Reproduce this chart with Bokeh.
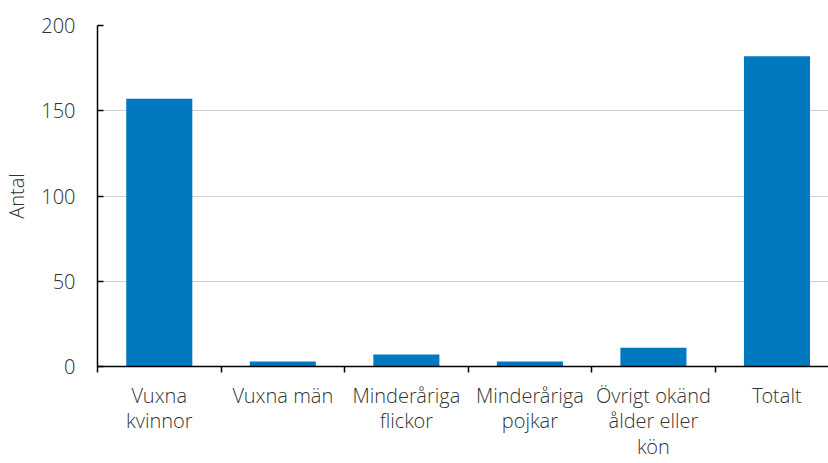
from bokeh.plotting import figure
from bokeh.models import Range1d, FixedTicker, ColumnDataSource
from bokeh.embed import file_html
from bokeh.resources import INLINE

categories = ["Vuxna\nkvinnor", "Vuxna män", "Minderåriga\nflickor", "Minderåriga\npojkar",
              "Övrigt okänd\nålder eller\nkön", "Totalt"]
values = [157, 3, 7, 3, 11, 182]
y_ticks = [0, 50, 100, 150, 200]

FONT = "'Open Sans Light', 'Open Sans'"
TXT = "#333333"
BAR = "#0079C1"

xs = [i + 0.5 for i in range(len(categories))]
src = ColumnDataSource(dict(x=xs, top=values))

p = figure(width=828, height=463, output_backend="svg", toolbar_location=None,
           x_range=Range1d(0, 5.917), y_range=Range1d(0, 200),
           min_border_left=96, min_border_right=0, min_border_top=25, min_border_bottom=88)
p.outline_line_color = None
p.background_fill_color = "white"
p.border_fill_color = "white"

p.vbar(x="x", top="top", width=0.535, bottom=0, source=src, color=BAR, line_color=None)

p.xgrid.visible = False
p.ygrid.grid_line_color = "#d0d0d0"
p.ygrid.grid_line_width = 1

# x axis
xa = p.xaxis[0]
xa.ticker = FixedTicker(ticks=xs, minor_ticks=list(range(len(categories) + 1)))
xa.major_label_overrides = {x: c for x, c in zip(xs, categories)}
xa.major_tick_in = 0
xa.major_tick_out = 0
xa.minor_tick_in = 0
xa.minor_tick_out = 6
xa.minor_tick_line_color = "black"
xa.minor_tick_line_width = 1.5
xa.axis_line_color = "black"
xa.axis_line_width = 1.5
xa.major_label_standoff = 9
xa.major_label_text_font = FONT
xa.major_label_text_font_size = "20px"
xa.major_label_text_line_height = 0.96
xa.major_label_text_color = TXT

# y axis
ya = p.yaxis[0]
ya.ticker = FixedTicker(ticks=y_ticks)
ya.minor_tick_line_color = None
ya.major_tick_in = 6
ya.major_tick_out = 0
ya.major_tick_line_color = "black"
ya.major_tick_line_width = 1.5
ya.axis_line_color = "black"
ya.axis_line_width = 1.5
ya.major_label_standoff = 22
ya.major_label_text_font = FONT
ya.major_label_text_font_size = "20px"
ya.major_label_text_color = TXT
ya.axis_label = "Antal"
ya.axis_label_text_font = FONT
ya.axis_label_text_font_size = "20px"
ya.axis_label_text_font_style = "normal"
ya.axis_label_text_color = TXT
ya.axis_label_standoff = 8

open("out.html", "w").write(file_html(p, INLINE))
